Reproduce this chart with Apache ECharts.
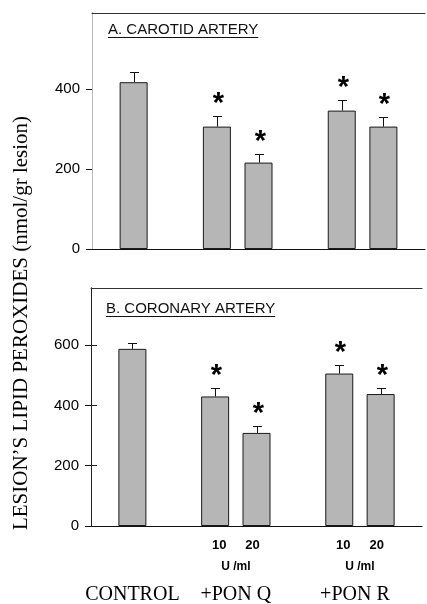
<!DOCTYPE html>
<html>
<head>
<meta charset="utf-8">
<script src="https://cdn.jsdelivr.net/npm/echarts@6/dist/echarts.min.js"></script>
<style>
  html, body { margin: 0; padding: 0; background: #fff; }
  #chart { width: 427px; height: 604px; }
</style>
</head>
<body>
<div id="chart"></div>
<script>
// slots along x: control, gap, PON Q 10/20, gap, PON R 10/20
const barPos = [1, 3, 4, 6, 7]
const doseLabels = ['', '10', '20', '10', '20']
const unitLabel = 'U /ml'
const groupLabels = ['CONTROL', '+PON Q', '+PON R']
const groupMembers = [[0], [1, 2], [3, 4]]
const significant = [false, true, true, true, true]

const carotidMean = [417, 306, 216, 346, 306]
const carotidErr = [25, 26, 22, 27, 23]
const coronaryMean = [588, 430, 309, 506, 438]
const coronaryErr = [19, 28, 24, 28, 19]

const carotidTicks = [0, 200, 400]
const coronaryTicks = [0, 200, 400, 600]
const coronaryRightTicks = [200, 400, 600]

const panelTitles = ['A. CAROTID ARTERY', 'B. CORONARY ARTERY']
const yTitle = 'LESION\u2019S LIPID PEROXIDES (nmol/gr lesion)'

const sansFont = '"Liberation Sans", Arial, sans-serif'
const serifFont = '"Liberation Serif", "Times New Roman", serif'

const chart = echarts.init(document.getElementById('chart'), null, { renderer: 'canvas' })

// measure text so the underline under panel titles fits
const measureCtx = document.createElement('canvas').getContext('2d')
const textWidth = (txt, font) => {
  measureCtx.font = font
  return measureCtx.measureText(txt).width
}

const crisp = (v) => Math.round(v) + 0.5

function barSeries(idx, means) {
  return {
    type: 'bar',
    xAxisIndex: idx * 2,
    yAxisIndex: idx * 2,
    barWidth: 28,
    data: barPos.map((x, i) => [x, means[i]]),
    itemStyle: { color: '#b6b6b6', borderColor: '#1a1a1a', borderWidth: 1 },
    silent: true,
  }
}

function errorSeries(idx, means, errs) {
  return {
    type: 'custom',
    xAxisIndex: idx * 2,
    yAxisIndex: idx * 2,
    z: 5,
    data: barPos.map((x, i) => [x, means[i], means[i] + errs[i], significant[i] ? 1 : 0]),
    renderItem: (params, api) => {
      const x = api.value(0)
      const base = api.coord([x, api.value(1)])
      const top = api.coord([x, api.value(2)])
      const cx = crisp(top[0])
      const ty = crisp(top[1])
      const children = [
        { type: 'line', shape: { x1: cx, y1: base[1], x2: cx, y2: ty }, style: { stroke: '#111', lineWidth: 1 } },
        { type: 'line', shape: { x1: cx - 4.5, y1: ty, x2: cx + 4.5, y2: ty }, style: { stroke: '#111', lineWidth: 1 } },
      ]
      if (api.value(3)) {
        children.push({
          type: 'text',
          x: cx + 1,
          y: top[1] - 12,
          style: { text: '*', font: 'bold 29px ' + sansFont, align: 'center', verticalAlign: 'middle', fill: '#000' },
        })
      }
      return { type: 'group', children }
    },
  }
}

// dose / unit / group labels hung under the lower panel's zero line
const pairCenters = groupMembers.map((m) => m.reduce((s, i) => s + barPos[i], 0) / m.length)

const labelSeries = {
  type: 'custom',
  xAxisIndex: 2,
  yAxisIndex: 2,
  clip: false,
  data: barPos.map((x, i) => [x, i]),
  renderItem: (params, api) => {
    const i = api.value(1)
    const p = api.coord([api.value(0), 0])
    const g = groupMembers.findIndex((m) => m.includes(i))
    const mid = api.coord([pairCenters[g], 0])
    const children = []
    if (doseLabels[i]) {
      const nudge = Math.sign(mid[0] - p[0]) * 4
      children.push({
        type: 'text', x: p[0] + nudge, y: p[1] + 19,
        style: { text: doseLabels[i], font: 'bold 13px ' + sansFont, align: 'center', verticalAlign: 'middle', fill: '#000' },
      })
    }
    // first bar of each group draws the group-level labels
    if (groupMembers[g][0] === i) {
      if (groupMembers[g].length > 1) {
        children.push({
          type: 'text', x: mid[0], y: p[1] + 41,
          style: { text: unitLabel, font: 'bold 12px ' + sansFont, align: 'center', verticalAlign: 'middle', fill: '#000' },
        })
      }
      children.push({
        type: 'text', x: mid[0] - (g === 2 ? 5 : 0), y: p[1] + 69,
        style: { text: groupLabels[g], font: '20px ' + serifFont, align: 'center', verticalAlign: 'middle', fill: '#000' },
      })
    }
    return { type: 'group', children }
  },
}

const grids = [
  { left: 92, top: 13, width: 333, height: 236 },
  { left: 91, top: 288, width: 331, height: 238 },
]
const yMax = [590, 790]

const xAxes = []
const yAxes = []
grids.forEach((g, idx) => {
  xAxes.push({
    type: 'value', gridIndex: idx, min: 0, max: 8, position: 'bottom',
    axisLine: { show: true, onZero: false, lineStyle: { color: '#111', width: 1 } },
    axisTick: { show: false }, axisLabel: { show: false }, splitLine: { show: false },
  })
  xAxes.push({
    type: 'value', gridIndex: idx, min: 0, max: 8, position: 'top',
    axisLine: { show: true, onZero: false, lineStyle: { color: '#333', width: 1 } },
    axisTick: { show: false }, axisLabel: { show: false }, splitLine: { show: false },
  })
  const ticks = idx === 0 ? carotidTicks : coronaryTicks
  yAxes.push({
    type: 'value', gridIndex: idx, min: 0, max: yMax[idx], position: 'left',
    axisLine: { show: true, lineStyle: { color: '#111', width: 1 } },
    axisTick: { show: true, length: 6, customValues: ticks, lineStyle: { color: '#111' } },
    axisLabel: { customValues: ticks, margin: 12, color: '#000', fontSize: 15, fontFamily: sansFont },
    splitLine: { show: false },
  })
  yAxes.push({
    type: 'value', gridIndex: idx, min: 0, max: yMax[idx], position: 'right',
    axisLine: { show: true, lineStyle: { color: idx === 0 ? '#bbb' : '#222', width: 1 } },
    axisTick: { show: idx === 1, length: 6, customValues: coronaryRightTicks, lineStyle: { color: '#222' } },
    axisLabel: { show: false },
    splitLine: { show: false },
  })
})

const titleFont = '15px ' + sansFont
const titlePos = [
  { x: 108, y: 30 },
  { x: 106, y: 309 },
]
const graphics = []
panelTitles.forEach((t, i) => {
  const w = textWidth(t, titleFont)
  graphics.push({
    type: 'text', x: titlePos[i].x, y: titlePos[i].y,
    style: { text: t, font: titleFont, fill: '#111', align: 'left', verticalAlign: 'middle' },
  })
  graphics.push({
    type: 'line',
    shape: { x1: titlePos[i].x, y1: titlePos[i].y + 7.5, x2: titlePos[i].x + w, y2: titlePos[i].y + 7.5 },
    style: { stroke: '#111', lineWidth: 1 },
  })
})
graphics.push({
  type: 'text', x: 21, y: 323, rotation: Math.PI / 2,
  style: { text: yTitle, font: '21px ' + serifFont, fill: '#000', align: 'center', verticalAlign: 'middle' },
})

chart.setOption({
  animation: false,
  backgroundColor: '#fff',
  grid: grids,
  xAxis: xAxes,
  yAxis: yAxes,
  graphic: graphics,
  series: [
    barSeries(0, carotidMean),
    errorSeries(0, carotidMean, carotidErr),
    barSeries(1, coronaryMean),
    errorSeries(1, coronaryMean, coronaryErr),
    labelSeries,
  ],
})
</script>
</body>
</html>
